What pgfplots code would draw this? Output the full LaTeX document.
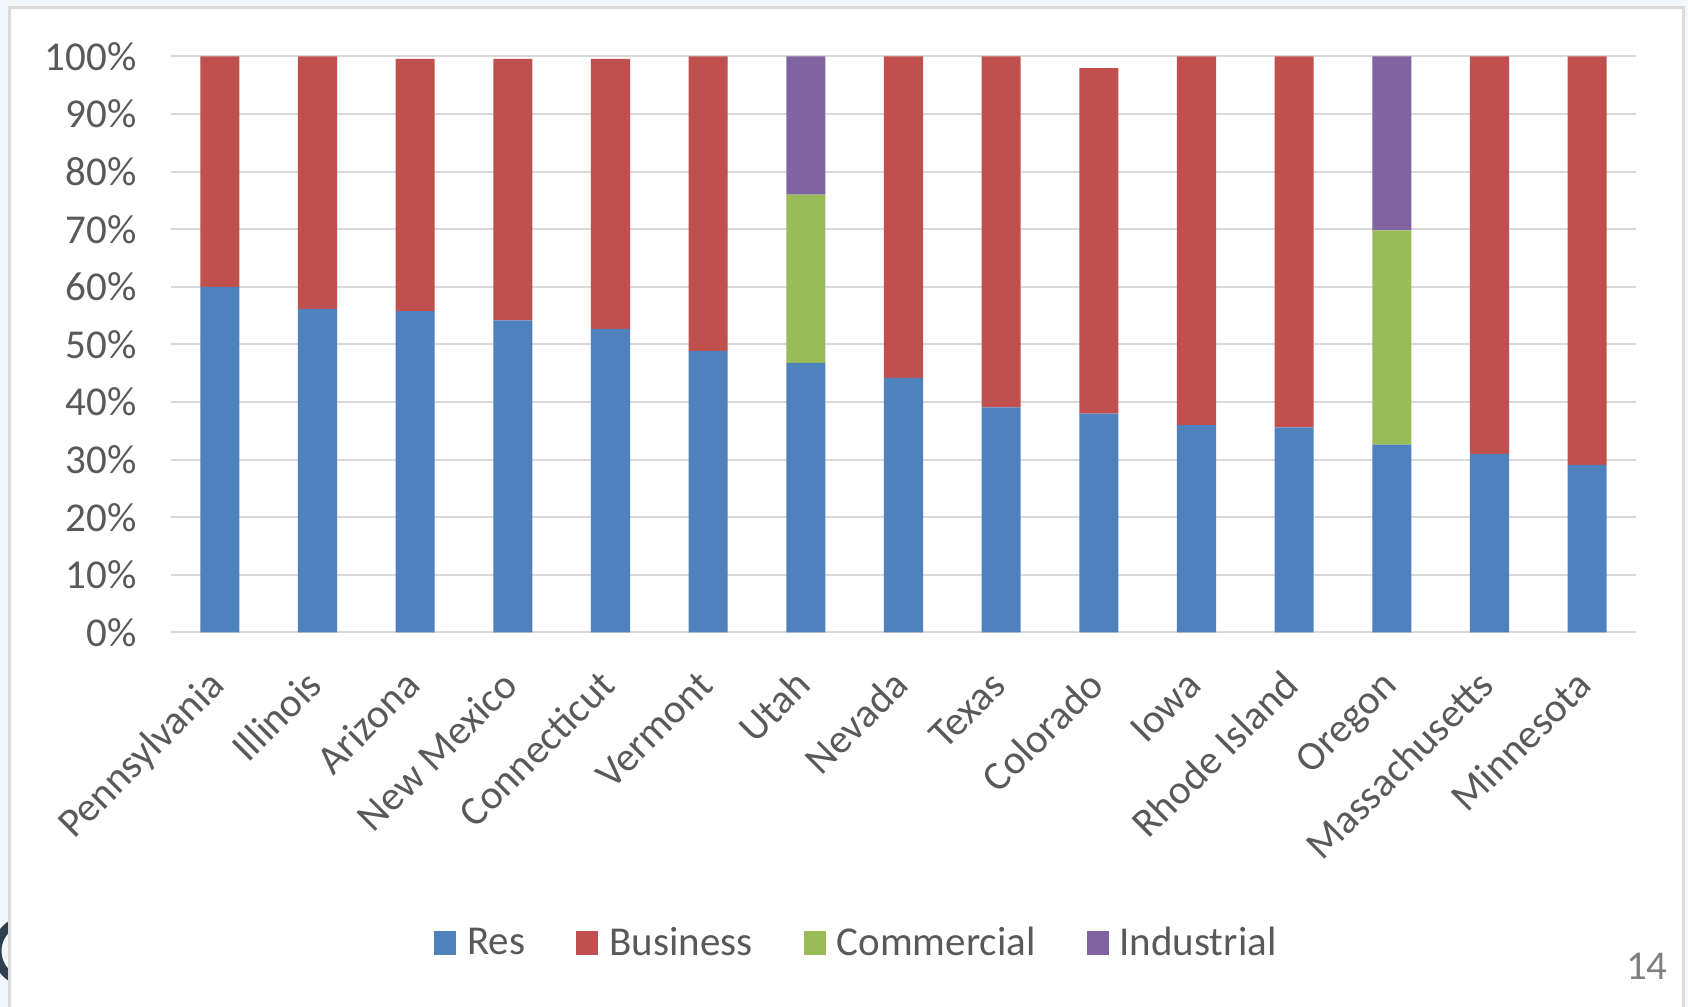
\documentclass[border=0pt]{standalone}
\usepackage{pgfplots}
\pgfplotsset{compat=1.18}
\usepackage{pgfplotstable}
\usepackage{fontspec}
\setmainfont{Carlito}
\definecolor{resblue}{HTML}{4F81BD}
\definecolor{busred}{HTML}{C0504D}
\definecolor{comgreen}{HTML}{9BBB59}
\definecolor{indpurple}{HTML}{8064A2}
\definecolor{txtgray}{HTML}{595959}
\definecolor{gridgray}{HTML}{D9D9D9}
\definecolor{pagebg}{HTML}{F2F7FB}
\definecolor{framegray}{HTML}{DADADA}
\definecolor{pagenum}{HTML}{808080}
\definecolor{darkslate}{HTML}{2E3F4F}
\newcommand\chartfont{\fontsize{20.5bp}{24bp}\selectfont}

\pgfplotstableread{
x res bus com ind
0 60.0 40.0 0 0
1 56.2 43.8 0 0
2 55.8 43.8 0 0
3 54.2 45.4 0 0
4 52.7 46.9 0 0
5 48.9 51.1 0 0
6 46.8 0 29.2 24.0
7 44.2 55.8 0 0
8 39.1 60.9 0 0
9 38.0 60.0 0 0
10 36.0 64.0 0 0
11 35.6 64.4 0 0
12 32.6 0 37.2 30.2
13 31.0 69.0 0 0
14 29.1 70.9 0 0
}\datatable

\begin{document}
\begin{tikzpicture}
\path[use as bounding box] (0,0) rectangle (844bp,503.5bp);
\clip (0,0) rectangle (844bp,503.5bp);
\fill[pagebg] (0,0) rectangle (844bp,503.5bp);
\draw[darkslate, line width=4.5bp] (14bp,28bp) circle (15.5bp);
\filldraw[fill=white, draw=framegray, line width=1.5bp] (4.5bp,499.5bp) rectangle (841.5bp,-5bp);
\begin{axis}[
  at={(85.5bp,187.25bp)}, anchor=south west,
  scale only axis, width=732.5bp, height=288bp,
  ybar stacked, bar width=0.4,
  xmin=-0.5, xmax=14.5, ymin=0, ymax=100,
  axis line style={draw=none},
  major tick style={draw=none},
  ymajorgrids, major grid style={line width=1bp, gridgray},
  ytick={0,10,20,30,40,50,60,70,80,90,100},
  yticklabels={0\%,10\%,20\%,30\%,40\%,50\%,60\%,70\%,80\%,90\%,100\%},
  yticklabel style={font=\chartfont, text=txtgray, anchor=east, inner sep=0pt, xshift=-17bp},
  xtick={0,...,14},
  xticklabels={Pennsylvania,Illinois,Arizona,New Mexico,Connecticut,Vermont,Utah,Nevada,Texas,Colorado,Iowa,Rhode Island,Oregon,Massachusetts,Minnesota},
  xticklabel style={font=\chartfont, text=txtgray, xshift=3.5bp, yshift=-27.5bp, rotate=45, anchor=base east, inner sep=0pt},
  legend columns=4,
  legend style={draw=none, fill=none, font=\chartfont, text=txtgray,
    at={(0.4672,-0.5395)}, anchor=center,
    nodes={inner sep=0pt},
    /tikz/every odd column/.append style={column sep=5.5bp},
    /tikz/every even column/.append style={column sep=25.5bp}},
  legend cell align=left,
  sq/.style={legend image code/.code={\fill[##1] (0bp,-6bp) rectangle (11bp,6bp);}},
]
\addplot[fill=resblue, draw=none, sq] table[x=x, y=res] {\datatable};
\addplot[fill=busred, draw=none, sq] table[x=x, y=bus] {\datatable};
\addplot[fill=comgreen, draw=none, sq] table[x=x, y=com] {\datatable};
\addplot[fill=indpurple, draw=none, sq] table[x=x, y=ind] {\datatable};
\legend{Res,Business,Commercial,Industrial}
\end{axis}
\node[anchor=base east, inner sep=0pt, font=\chartfont, text=pagenum] at (834bp,14bp) {14};
\end{tikzpicture}
\end{document}
